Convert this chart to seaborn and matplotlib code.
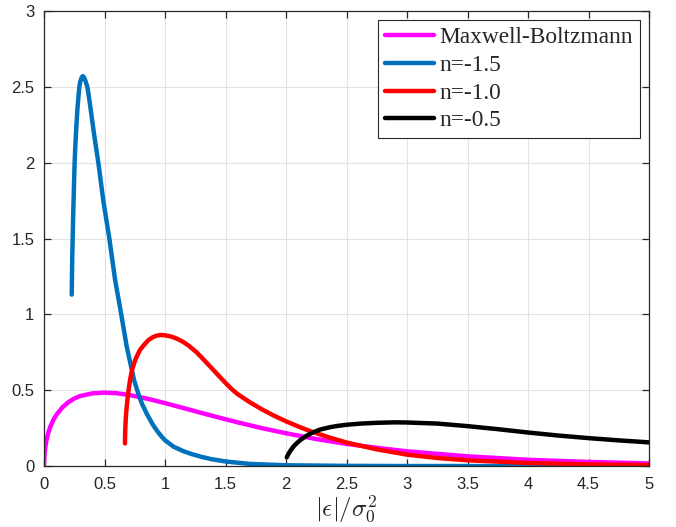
import matplotlib
matplotlib.use("Agg")
import matplotlib.pyplot as plt
import seaborn as sns
import pandas as pd

# ---- data ----
mb_x = [0, 0.005, 0.01, 0.02, 0.035, 0.05, 0.075, 0.1, 0.15, 0.2, 0.25, 0.3, 0.4, 0.5, 0.6,
        0.7, 0.8, 0.9, 1.0, 1.2, 1.4, 1.6, 1.8, 2.0, 2.25, 2.5, 2.75, 3.0, 3.5, 4.0, 4.5, 5.0]
mb_y = [0, 0.085, 0.12, 0.168, 0.218, 0.255, 0.300, 0.335, 0.385, 0.420, 0.445, 0.462, 0.479,
        0.484, 0.480, 0.469, 0.453, 0.435, 0.415, 0.372, 0.329, 0.288, 0.250, 0.216, 0.178,
        0.146, 0.120, 0.097, 0.064, 0.041, 0.027, 0.017]

n15_x = [0.229, 0.231, 0.234, 0.237, 0.241, 0.246, 0.253, 0.260, 0.268, 0.276, 0.284, 0.292,
         0.300, 0.310, 0.320, 0.330, 0.342, 0.358, 0.372, 0.386, 0.415, 0.449, 0.49, 0.540,
         0.587, 0.636, 0.683, 0.744, 0.78, 0.81, 0.849, 0.90, 0.94, 0.973, 1.0, 1.07, 1.151,
         1.22, 1.289, 1.38, 1.5, 1.7, 2.0, 2.5, 3.0, 3.5, 4.0, 4.5, 5.0]
n15_y = [1.13, 1.25, 1.40, 1.50, 1.65, 1.80, 2.00, 2.13, 2.25, 2.35, 2.43, 2.50,
         2.535, 2.560, 2.571, 2.563, 2.54, 2.50, 2.43, 2.35, 2.18, 2.00, 1.75, 1.50,
         1.23, 1.01, 0.79, 0.567, 0.475, 0.41, 0.345, 0.272, 0.226, 0.193, 0.170, 0.128, 0.098,
         0.079, 0.063, 0.046, 0.030, 0.014, 0.005, 0.001, 0, 0, 0, 0, 0]

n10_x = [0.669, 0.670, 0.672, 0.675, 0.680, 0.689, 0.699, 0.711, 0.725, 0.744, 0.765, 0.793,
         0.825, 0.862, 0.90, 0.93, 0.96, 1.0, 1.05, 1.1, 1.151, 1.2, 1.262, 1.32, 1.372,
         1.43, 1.5, 1.55, 1.6, 1.7, 1.8, 1.9, 2.0, 2.1, 2.2, 2.35, 2.5, 2.75, 3.0, 3.25, 3.5,
         4.0, 4.5, 5.0]
n10_y = [0.149, 0.20, 0.25, 0.303, 0.36, 0.435, 0.50, 0.567, 0.625, 0.677, 0.72, 0.765,
         0.797, 0.830, 0.850, 0.859, 0.864, 0.862, 0.854, 0.839, 0.818, 0.791, 0.749, 0.701,
         0.657, 0.607, 0.548, 0.508, 0.474, 0.421, 0.374, 0.332, 0.295, 0.261, 0.230, 0.190,
         0.155, 0.110, 0.075, 0.053, 0.038, 0.020, 0.011, 0.006]

n05_x = [2.006, 2.02, 2.04, 2.06, 2.088, 2.12, 2.16, 2.21, 2.28, 2.364, 2.43, 2.5, 2.62, 2.75,
         2.9, 3.0, 3.25, 3.5, 3.75, 4.0, 4.25, 4.5, 4.75, 5.0]
n05_y = [0.057, 0.08, 0.105, 0.127, 0.15, 0.172, 0.195, 0.217, 0.24, 0.256, 0.265, 0.272,
         0.28, 0.285, 0.288, 0.287, 0.28, 0.263, 0.243, 0.221, 0.201, 0.184, 0.169, 0.156]

labels = ["Maxwell-Boltzmann", "n=-1.5", "n=-1.0", "n=-0.5"]
colors = ["#ff00ff", "#0072bd", "#ff0000", "#000000"]
x_ticks = [0, 0.5, 1, 1.5, 2, 2.5, 3, 3.5, 4, 4.5, 5]
y_ticks = [0, 0.5, 1, 1.5, 2, 2.5, 3]
x_tick_labels = ["0", "0.5", "1", "1.5", "2", "2.5", "3", "3.5", "4", "4.5", "5"]
y_tick_labels = ["0", "0.5", "1", "1.5", "2", "2.5", "3"]

# ---- style ----
sns.set_theme(style="whitegrid")
plt.rcParams["font.family"] = ["Liberation Sans", "DejaVu Sans"]
plt.rcParams["mathtext.fontset"] = "cm"

axis_col = "#262626"
fig = plt.figure(figsize=(6.76, 5.27), dpi=100)
ax = fig.add_axes([0.0651, 0.1157, 0.895, 0.8634])

series = [(mb_x, mb_y), (n15_x, n15_y), (n10_x, n10_y), (n05_x, n05_y)]
for (xs, ys), lab, col in zip(series, labels, colors):
    df = pd.DataFrame({"x": xs, "y": ys})
    sns.lineplot(data=df, x="x", y="y", ax=ax, color=col, linewidth=3.2,
                 label=lab, sort=False, estimator=None, solid_joinstyle="round")

ax.set_xlim(0, 5)
ax.set_ylim(0, 3)
ax.set_xticks(x_ticks)
ax.set_xticklabels(x_tick_labels)
ax.set_yticks(y_ticks)
ax.set_yticklabels(y_tick_labels)
ax.set_ylabel("")
ax.set_xlabel(r"$|\epsilon|/\sigma_0^2$", fontsize=18, color=axis_col, labelpad=1)

ax.set_facecolor("white")
ax.grid(True, color="#e3e3e3", linewidth=0.8)
for sp in ax.spines.values():
    sp.set_visible(True)
    sp.set_color(axis_col)
    sp.set_linewidth(0.9)
ax.tick_params(axis="both", which="both", direction="in", length=5, width=0.9,
               color=axis_col, labelcolor=axis_col, labelsize=12,
               top=True, right=True, bottom=True, left=True)
ax.tick_params(axis="x", pad=8)
ax.tick_params(axis="y", pad=7)

leg = ax.legend(loc="upper right", bbox_to_anchor=(0.985, 0.980), borderaxespad=0,
                prop={"family": "Liberation Serif", "size": 16.8},
                fancybox=False, framealpha=1, edgecolor=axis_col,
                handlelength=2.1, handletextpad=0.25, borderpad=0.3, labelspacing=0.27)
leg.get_frame().set_linewidth(0.8)

fig.savefig("out.png", dpi=100)
